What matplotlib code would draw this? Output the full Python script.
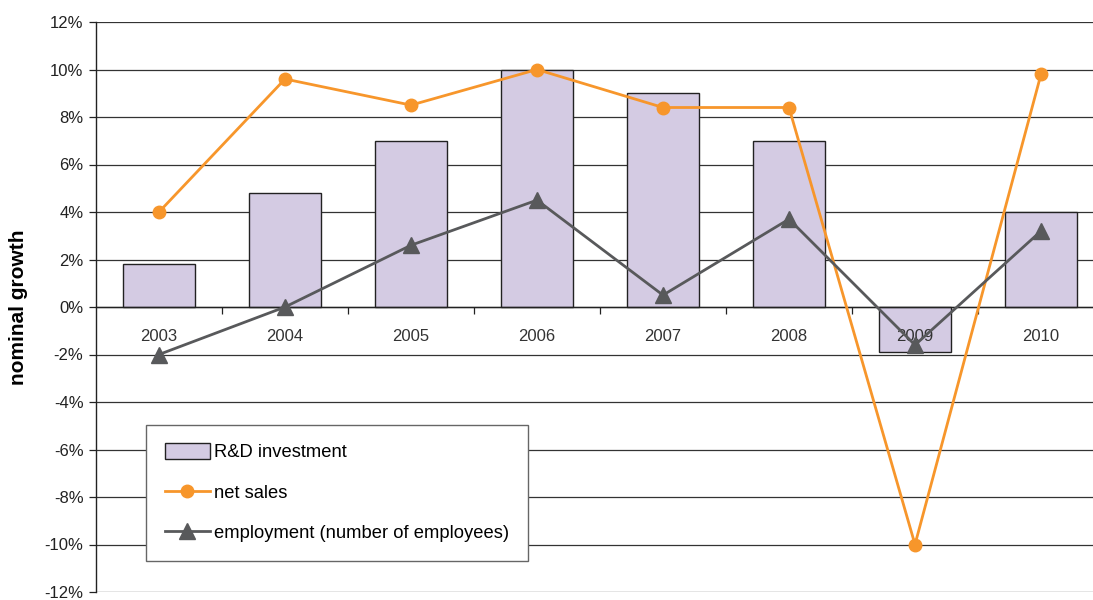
import matplotlib.pyplot as plt
from matplotlib.ticker import FixedLocator, FuncFormatter

plt.rcParams['font.family'] = ['Liberation Sans', 'DejaVu Sans']

years = ['2003', '2004', '2005', '2006', '2007', '2008', '2009', '2010']
rd_investment = [1.8, 4.8, 7.0, 10.0, 9.0, 7.0, -1.9, 4.0]
net_sales = [4.0, 9.6, 8.5, 10.0, 8.4, 8.4, -10.0, 9.8]
employment = [-2.0, 0.0, 2.6, 4.5, 0.5, 3.7, -1.6, 3.2]

bar_color = '#d4cbe3'
sales_color = '#f7962b'
empl_color = '#58595b'

fig = plt.figure(figsize=(10.93, 6.0), dpi=100)
# axes runs slightly past the right edge of the figure
ax = fig.add_axes([96 / 1093, 8 / 600, 1008 / 1093, 570 / 600])

x = list(range(len(years)))
bars = ax.bar(x, rd_investment, width=0.57, color=bar_color,
              edgecolor='#222222', linewidth=1.0, zorder=2,
              label='R&D investment')
l_sales, = ax.plot(x, net_sales, '-o', color=sales_color, lw=2.0, ms=9,
                   zorder=4, label='net sales')
l_empl, = ax.plot(x, employment, '-^', color=empl_color, lw=2.0, ms=11,
                  zorder=5, label='employment (number of employees)')

ax.set_xlim(-0.5, len(years) - 0.5)
ax.set_ylim(-12, 12)

# horizontal grid
ax.yaxis.set_major_locator(FixedLocator(range(-12, 13, 2)))
ax.yaxis.set_major_formatter(FuncFormatter(lambda v, p: '%d%%' % v))
ax.grid(axis='y', color='#333333', lw=0.9, zorder=0)
ax.tick_params(axis='y', direction='out', length=5, width=0.9,
               labelsize=12, pad=4, colors='#222222')

# category axis drawn on the zero line
for s in ['top', 'right']:
    ax.spines[s].set_visible(False)
ax.spines['left'].set_color('#222222')
ax.spines['left'].set_linewidth(1.0)
ax.spines['bottom'].set_position(('data', 0))
ax.spines['bottom'].set_color('#222222')
ax.spines['bottom'].set_linewidth(1.0)
ax.spines['bottom'].set_zorder(3)
ax.xaxis.set_major_locator(FixedLocator([i + 0.5 for i in x[:-1]]))
ax.xaxis.set_major_formatter(FuncFormatter(lambda v, p: ''))
ax.tick_params(axis='x', which='major', direction='out', length=5,
               width=0.9, colors='#222222')

# year labels sit just under the zero line, on top of the bars
for i, yr in enumerate(years):
    ax.annotate(yr, (i, 0), xytext=(0, -21), textcoords='offset points',
                ha='center', va='center', fontsize=12, color='#333333',
                zorder=3.5)

ax.set_ylabel('nominal growth', fontsize=15, fontweight='bold', labelpad=12)

leg = ax.legend([bars, l_sales, l_empl],
                ['R&D investment', 'net sales',
                 'employment (number of employees)'],
                loc='lower left', bbox_to_anchor=(0.05, 0.055), fontsize=13.2,
                fancybox=False, framealpha=1, edgecolor='#666666',
                handlelength=2.45, handleheight=1.0, handletextpad=0.25,
                labelspacing=1.2, borderpad=1.0, borderaxespad=0)
leg.get_frame().set_linewidth(1.0)
leg.set_zorder(6)

fig.savefig('out.png', dpi=100)
